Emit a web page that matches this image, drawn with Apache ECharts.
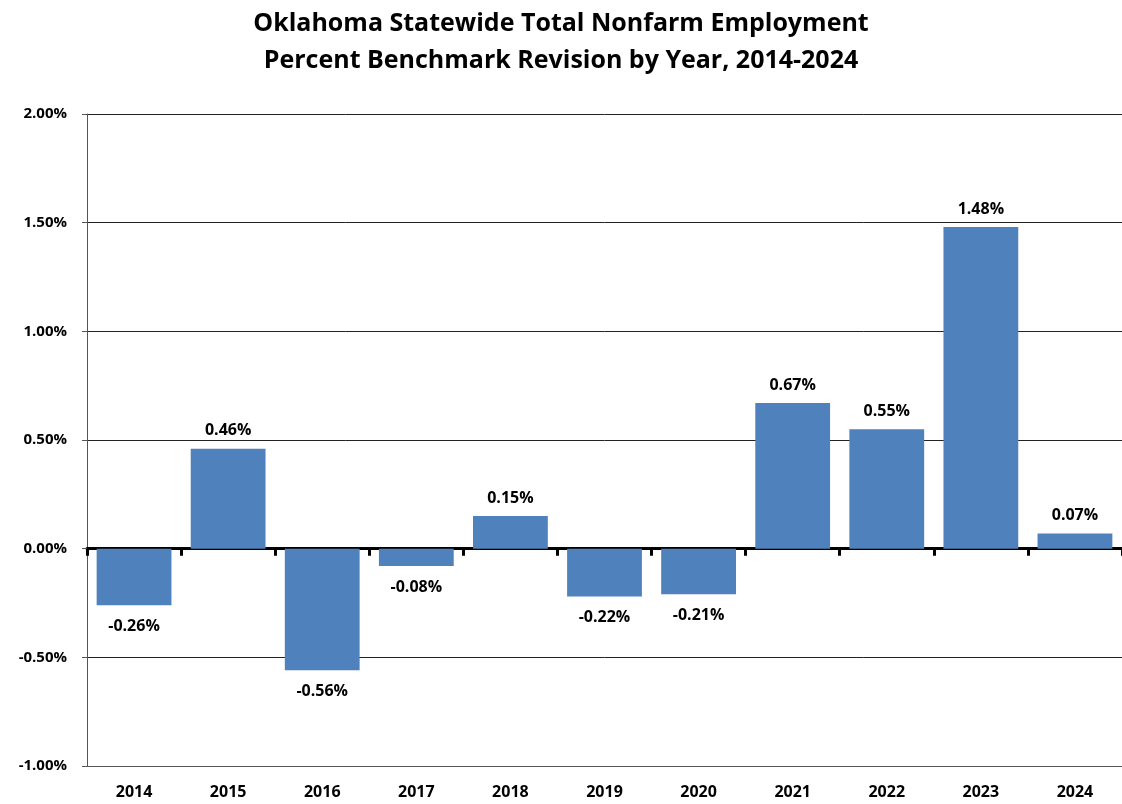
<!DOCTYPE html>
<html>
<head>
<meta charset="utf-8">
<script src="https://cdn.jsdelivr.net/npm/echarts@6/dist/echarts.min.js"></script>
<style>
  html, body { margin: 0; padding: 0; background: #fff; overflow: hidden; }
  #main { width: 1122px; height: 804px; }
</style>
</head>
<body>
<div id="main"></div>
<script>
var years = ['2014', '2015', '2016', '2017', '2018', '2019', '2020', '2021', '2022', '2023', '2024'];
var revisions = [-0.26, 0.46, -0.56, -0.08, 0.15, -0.22, -0.21, 0.67, 0.55, 1.48, 0.07];

var chartDom = document.getElementById('main');
var myChart = echarts.init(chartDom);
var fontFam = '"Open Sans", "Noto Sans", sans-serif';

var option = {
  animation: false,
  title: {
    text: 'Oklahoma Statewide Total Nonfarm Employment\nPercent Benchmark Revision by Year, 2014-2024',
    left: 'center',
    top: 0,
    textStyle: { fontFamily: fontFam, fontSize: 25, fontWeight: 'bold', color: '#000', lineHeight: 37 }
  },
  grid: { left: 87, right: -3, top: 114, bottom: 38 },
  xAxis: [
    {
      type: 'category',
      data: years,
      position: 'bottom',
      axisLine: { onZero: false, lineStyle: { color: '#555', width: 1 } },
      axisTick: { show: false },
      axisLabel: { fontFamily: fontFam, fontSize: 16, fontWeight: 'bold', color: '#000', margin: 18 }
    },
    {
      type: 'category',
      data: years,
      position: 'bottom',
      axisLine: { onZero: true, lineStyle: { color: '#000', width: 3 } },
      axisTick: { show: true, length: 7, lineStyle: { color: '#000', width: 3 } },
      axisLabel: { show: false }
    }
  ],
  yAxis: {
    type: 'value',
    min: -1,
    max: 2,
    interval: 0.5,
    axisLine: { show: true, lineStyle: { color: '#555', width: 1 } },
    axisTick: { show: true, length: 5, lineStyle: { color: '#555' } },
    splitLine: { lineStyle: { color: '#222', width: 1 } },
    axisLabel: {
      fontFamily: fontFam, fontSize: 15, fontWeight: 'bold', color: '#000', margin: 20,
      formatter: function (v) { return v.toFixed(2) + '%'; }
    }
  },
  series: [{
    type: 'bar',
    data: revisions.map(function (v) {
      return { value: v, label: { position: v >= 0 ? 'top' : 'bottom', distance: v >= 0 ? 10 : 13 } };
    }),
    barCategoryGap: '20.5%',
    itemStyle: { color: '#4f81bd' },
    label: {
      show: true,
      fontFamily: fontFam, fontSize: 16, fontWeight: 'bold', color: '#000',
      formatter: function (p) { return p.value.toFixed(2) + '%'; }
    }
  }]
};
option && myChart.setOption(option);
</script>
</body>
</html>
